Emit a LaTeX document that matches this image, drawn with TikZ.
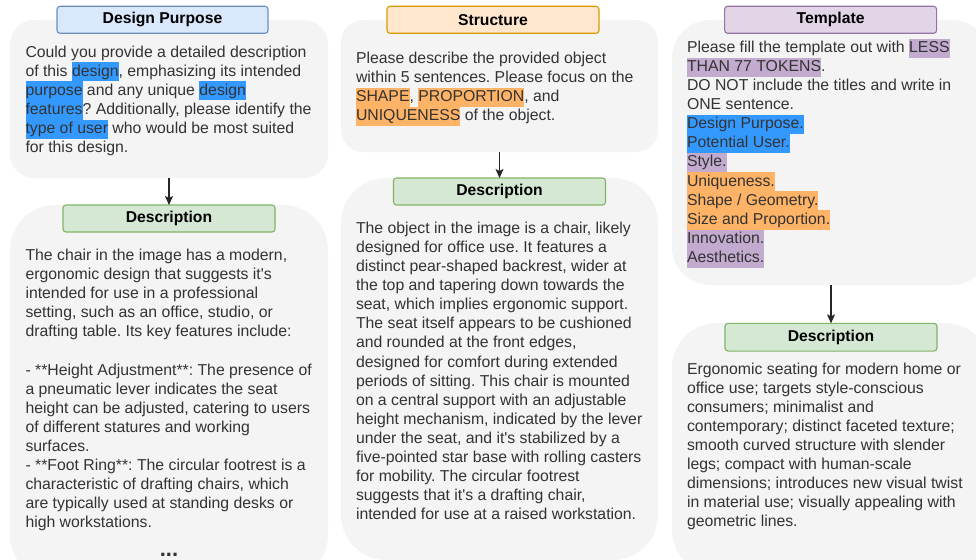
\documentclass[tikz,border=0pt]{standalone}
\usepackage{fontspec}
\setmainfont{Liberation Sans}[Ligatures=TeXOff]
\usetikzlibrary{arrows.meta}
\frenchspacing
\definecolor{txtgray}{HTML}{333333}
\definecolor{panelgray}{HTML}{F4F4F4}
\definecolor{hlblue}{HTML}{3399FF}
\definecolor{hlorange}{HTML}{FFB366}
\definecolor{hlpurple}{HTML}{C3ABD0}
\definecolor{blfill}{HTML}{DAE8FC}
\definecolor{bldraw}{HTML}{6C8EBF}
\definecolor{orfill}{HTML}{FFE6CC}
\definecolor{ordraw}{HTML}{D79B00}
\definecolor{pufill}{HTML}{E1D5E7}
\definecolor{pudraw}{HTML}{9673A6}
\definecolor{grfill}{HTML}{D5E8D4}
\definecolor{grdraw}{HTML}{82B366}
\newcommand{\bodysize}{\fontsize{15.8}{19.1}\selectfont\frenchspacing}
\newcommand{\mystrut}{\rule[-5.3pt]{0pt}{19.1pt}}
\newcommand{\hlB}[1]{{\setlength{\fboxsep}{0pt}\colorbox{hlblue}{\mystrut#1}}}
\newcommand{\hlO}[1]{{\setlength{\fboxsep}{0pt}\colorbox{hlorange}{\mystrut#1}}}
\newcommand{\hlP}[1]{{\setlength{\fboxsep}{0pt}\colorbox{hlpurple}{\mystrut#1}}}
\begin{document}
\begin{tikzpicture}[x=1pt,y=-1pt,
  panel/.style={fill=panelgray, draw=none, rectangle, inner sep=0pt, outer sep=0pt},
  header/.style={rectangle, rounded corners=3pt, line width=1.1pt, inner sep=0pt, outer sep=0pt,
    minimum width=212pt, minimum height=27pt, font=\fontsize{15.7}{18}\selectfont\bfseries, text=black},
  bluehead/.style={header, fill=blfill, draw=bldraw},
  orangehead/.style={header, fill=orfill, draw=ordraw},
  purplehead/.style={header, fill=pufill, draw=pudraw},
  greenhead/.style={header, fill=grfill, draw=grdraw},
  txt/.style={anchor=north west, inner sep=0pt, outer sep=0pt, align=left, text=txtgray, font=\bodysize},
  arr/.style={draw=black!85, line width=1.1pt, -{Stealth[length=9pt,width=8pt,inset=2pt]}}
]
\path[use as bounding box, fill=white] (0,0) rectangle (976,559);
\clip (0,0) rectangle (976,559);

% panels
\node[panel, rounded corners=24pt, minimum width=318pt, minimum height=158pt] (lt) at (169,99) {};
\node[panel, rounded corners=45pt, minimum width=318pt, minimum height=375pt] (lb) at (169,392.5) {};
\node[panel, rounded corners=22pt, minimum width=317pt, minimum height=132pt] (mt) at (499.5,86) {};
\node[panel, rounded corners=45pt, minimum width=317pt, minimum height=382pt] (mb) at (499.5,369) {};
\node[panel, rounded corners=38pt, minimum width=318pt, minimum height=265pt] (rt) at (831,152.5) {};
\node[panel, rounded corners=45pt, minimum width=318pt, minimum height=252pt] (rb) at (831,449) {};

% headers
\node[bluehead, minimum width=211pt] (h1) at (162.5,19.8) {Design Purpose};
\node[orangehead] (h2) at (493,19.8) {Structure};
\node[purplehead] (h3) at (830.6,19.8) {Template};
\node[greenhead] (d1) at (169,218.5) {Description};
\node[greenhead] (d2) at (499.5,191.5) {Description};
\node[greenhead, minimum height=27.7pt] (d3) at (831,337.2) {Description};

% texts
\node[txt] (t1) at (25.5,43.2) {\mystrut Could you provide a detailed description\\
of this \hlB{design}, emphasizing its intended\\
\hlB{purpose} and any unique \hlB{design}\\
\hlB{features}? Additionally, please identify the\\
\hlB{type of user} who would be most suited\\
for this design.};

\node[txt] (t2) at (25.5,246.7) {\mystrut The chair in the image has a modern,\\
ergonomic design that suggests it's\\
intended for use in a professional\\
setting, such as an office, studio, or\\
drafting table. Its key features include:\\
\mystrut\\
- **Height Adjustment**: The presence of\\
a pneumatic lever indicates the seat\\
height can be adjusted, catering to users\\
of different statures and working\\
surfaces.\\
- **Foot Ring**: The circular footrest is a\\
characteristic of drafting chairs, which\\
are typically used at standing desks or\\
high workstations.};

\node[txt] (t3) at (356,49.5) {\mystrut Please describe the provided object\\
within 5 sentences. Please focus on the\\
\hlO{SHAPE}, \hlO{PROPORTION}, and\\
\hlO{UNIQUENESS} of the object.};

\node[txt] (t4) at (356,219.5) {\mystrut The object in the image is a chair, likely\\
designed for office use. It features a\\
distinct pear-shaped backrest, wider at\\
the top and tapering down towards the\\
seat, which implies ergonomic support.\\
The seat itself appears to be cushioned\\
and rounded at the front edges,\\
designed for comfort during extended\\
periods of sitting. This chair is mounted\\
on a central support with an adjustable\\
height mechanism, indicated by the lever\\
under the seat, and it's stabilized by a\\
five-pointed star base with rolling casters\\
for mobility. The circular footrest\\
suggests that it's a drafting chair,\\
intended for use at a raised workstation.};

\node[txt] (t5) at (687,38.5) {\mystrut Please fill the template out with \hlP{LESS}\\
\hlP{THAN 77 TOKENS}.\\
DO NOT include the titles and write in\\
ONE sentence.\\
\hlB{Design Purpose.}\\
\hlB{Potential User.}\\
\hlP{Style.}\\
\hlO{Uniqueness.}\\
\hlO{Shape / Geometry.}\\
\hlO{Size and Proportion.}\\
\hlP{Innovation.}\\
\hlP{Aesthetics.}};

\node[txt] (t6) at (687,360.2) {\mystrut Ergonomic seating for modern home or\\
office use; targets style-conscious\\
consumers; minimalist and\\
contemporary; distinct faceted texture;\\
smooth curved structure with slender\\
legs; compact with human-scale\\
dimensions; introduces new visual twist\\
in material use; visually appealing with\\
geometric lines.};

\node[anchor=base, inner sep=0pt, text=txtgray, font=\fontsize{22}{24}\selectfont\bfseries] (dots) at (169,556) {...};

% connectors
\draw[arr] (lt.south) -- (d1.north);
\draw[arr] (mt.south) -- (d2.north);
\draw[arr] (rt.south) -- (d3.north);
\end{tikzpicture}
\end{document}
